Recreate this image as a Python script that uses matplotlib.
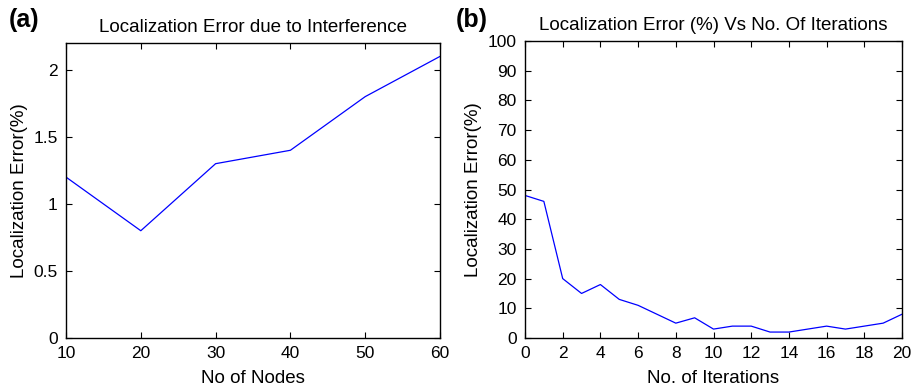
import numpy as np
from matplotlib import pyplot as plt

# panel (a)
nodes = [10, 20, 30, 40, 50, 60]
err_nodes = [1.2, 0.8, 1.3, 1.4, 1.8, 2.1]

# panel (b)
iters = list(range(21))
err_iters = [48, 46, 20, 15, 18, 13, 11, 8, 5, 6.8, 3, 4, 4, 2, 2, 3, 4, 3, 4, 5, 8]

plt.rcParams['font.family'] = ['Liberation Sans', 'DejaVu Sans']

fig = plt.figure(figsize=(9.15, 3.88), dpi=100)
W, H = 915, 388
ax1 = fig.add_axes([66 / W, 1 - 338 / H, (440 - 66) / W, (338 - 43) / H])
ax2 = fig.add_axes([525 / W, 1 - 338 / H, (902 - 525) / W, (338 - 41) / H])

def style(ax):
    ax.tick_params(direction='in', top=True, right=True, labelsize=12.5, length=4, width=0.8, pad=6)
    for s in ax.spines.values():
        s.set_linewidth(1.0)

ax1.plot(nodes, err_nodes, color='#0000ff', lw=0.9)
ax1.set_xlim(10, 60)
ax1.set_ylim(0, 2.2)
ax1.set_yticks([0, 0.5, 1, 1.5, 2])
ax1.set_yticklabels(['0', '0.5', '1', '1.5', '2'])
ax1.set_xlabel('No of Nodes', fontsize=13.5, labelpad=6)
ax1.set_ylabel('Localization Error(%)', fontsize=13.5, labelpad=4)
ax1.set_title('Localization Error due to Interference', fontsize=13.5, pad=8)
style(ax1)

ax2.plot(iters, err_iters, color='#0000ff', lw=0.9)
ax2.set_xlim(0, 20)
ax2.set_ylim(0, 100)
ax2.set_xticks(range(0, 21, 2))
ax2.set_yticks(range(0, 101, 10))
ax2.set_xlabel('No. of Iterations', fontsize=13.5, labelpad=6)
ax2.set_ylabel('Localization Error(%)', fontsize=13.5, labelpad=4)
ax2.set_title('Localization Error (%) Vs No. Of Iterations', fontsize=13.5, pad=8)
style(ax2)

fig.text(9 / W, 1 - 20 / H, '(a)', fontsize=18, fontweight='bold', va='center', ha='left')
fig.text(456 / W, 1 - 20 / H, '(b)', fontsize=18, fontweight='bold', va='center', ha='left')

fig.savefig('out.png', dpi=100)
